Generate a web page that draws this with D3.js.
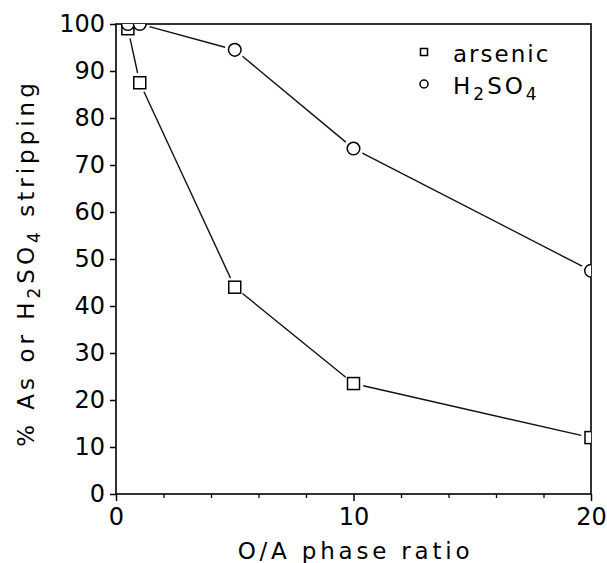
<!DOCTYPE html>
<html>
<head>
<meta charset="utf-8">
<script src="https://cdn.jsdelivr.net/npm/d3@7/dist/d3.min.js"></script>
<style>
  html, body { margin: 0; padding: 0; background: #fff; }
  svg { display: block; }
  text { font-family: "DejaVu Sans", sans-serif; fill: #000; }
</style>
</head>
<body>
<div id="chart"></div>
<script>
const phaseRatio = [0.5, 1, 5, 10, 20];
const arsenic = [99, 87.5, 44, 23.5, 12];
const h2so4 = [100, 100, 94.5, 73.5, 47.5];
const xMajorTicks = [0, 10, 20];
const xMinorTicks = [2, 4, 6, 8, 12, 14, 16, 18];
const yTicks = [0, 10, 20, 30, 40, 50, 60, 70, 80, 90, 100];

const W = 607, H = 563;
const mLeft = 116, mRight = 591, mTop = 24, mBottom = 494;

const svg = d3.select("#chart").append("svg").attr("width", W).attr("height", H);

const x = d3.scaleLinear().domain([0, 20]).range([mLeft, mRight]);
const y = d3.scaleLinear().domain([0, 100]).range([mBottom, mTop]);

svg.append("defs").append("clipPath").attr("id", "plotclip")
  .append("rect").attr("x", mLeft).attr("y", mTop).attr("width", mRight - mLeft).attr("height", mBottom - mTop);

// frame
svg.append("rect").attr("x", mLeft).attr("y", mTop).attr("width", mRight - mLeft).attr("height", mBottom - mTop)
  .attr("fill", "none").attr("stroke", "#000").attr("stroke-width", 1.6);

// y axis
const yAxis = svg.append("g").attr("transform", `translate(${mLeft},0)`)
  .call(d3.axisLeft(y).tickValues(yTicks).tickSize(6).tickPadding(5).tickFormat(d3.format("d")));
yAxis.select(".domain").remove();
yAxis.selectAll("line").attr("stroke", "#000").attr("stroke-width", 1.5);
yAxis.selectAll("text").style("font-size", "24px").attr("font-family", "DejaVu Sans");

// x axis major
const xAxis = svg.append("g").attr("transform", `translate(0,${mBottom})`)
  .call(d3.axisBottom(x).tickValues(xMajorTicks).tickSize(7).tickPadding(7).tickFormat(d3.format("d")));
xAxis.select(".domain").remove();
xAxis.selectAll("line").attr("stroke", "#000").attr("stroke-width", 1.5);
xAxis.selectAll("text").style("font-size", "24px").attr("font-family", "DejaVu Sans");

// x axis minor
const xMinor = svg.append("g").attr("transform", `translate(0,${mBottom})`)
  .call(d3.axisBottom(x).tickValues(xMinorTicks).tickSize(4).tickFormat(""));
xMinor.select(".domain").remove();
xMinor.selectAll("line").attr("stroke", "#000").attr("stroke-width", 1.3);

// titles
svg.append("text").attr("x", (mLeft + mRight) / 2 + 2).attr("y", 559)
  .attr("text-anchor", "middle").style("font-size", "23px").style("letter-spacing", "3.8px")
  .text("O/A phase ratio");

const yt = svg.append("text").attr("transform", `translate(34,${263}) rotate(-90)`)
  .attr("text-anchor", "middle").style("font-size", "23px").style("letter-spacing", "4px");
yt.append("tspan").text("% As or H");
yt.append("tspan").attr("dy", 6).style("font-size", "17px").text("2");
yt.append("tspan").attr("dy", -6).text("SO");
yt.append("tspan").attr("dy", 6).style("font-size", "17px").text("4");
yt.append("tspan").attr("dy", -6).text(" stripping");

// data
const plot = svg.append("g").attr("clip-path", "url(#plotclip)");

function drawSeries(vals, gap) {
  const pts = phaseRatio.map((p, i) => [x(p), y(vals[i])]);
  for (let i = 0; i < pts.length - 1; i++) {
    const [x1, y1] = pts[i], [x2, y2] = pts[i + 1];
    const dx = x2 - x1, dy = y2 - y1, L = Math.hypot(dx, dy);
    if (L <= 2 * gap) continue;
    const ux = dx / L, uy = dy / L;
    plot.append("line")
      .attr("x1", x1 + ux * gap).attr("y1", y1 + uy * gap)
      .attr("x2", x2 - ux * gap).attr("y2", y2 - uy * gap)
      .attr("stroke", "#111").attr("stroke-width", 1.4);
  }
  return pts;
}

const aPts = drawSeries(arsenic, 10);
const hPts = drawSeries(h2so4, 10);

plot.selectAll(".sq").data(aPts).enter().append("rect")
  .attr("x", d => d[0] - 6).attr("y", d => d[1] - 6).attr("width", 12).attr("height", 12)
  .attr("fill", "#fff").attr("stroke", "#000").attr("stroke-width", 1.5);

plot.selectAll(".ci").data(hPts).enter().append("circle")
  .attr("cx", d => d[0]).attr("cy", d => d[1]).attr("r", 6.3)
  .attr("fill", "#fff").attr("stroke", "#000").attr("stroke-width", 1.5);

// legend
const lg = svg.append("g");
lg.append("rect").attr("x", 420.5).attr("y", 48.5).attr("width", 7).attr("height", 7)
  .attr("fill", "#fff").attr("stroke", "#000").attr("stroke-width", 1.5);
lg.append("circle").attr("cx", 424).attr("cy", 84).attr("r", 4)
  .attr("fill", "#fff").attr("stroke", "#000").attr("stroke-width", 1.5);
lg.append("text").attr("x", 453).attr("y", 62).style("font-size", "23px").style("letter-spacing", "2px").text("arsenic");
const lt = lg.append("text").attr("x", 453).attr("y", 94).style("font-size", "23px").style("letter-spacing", "3px");
lt.append("tspan").text("H");
lt.append("tspan").attr("dy", 6).style("font-size", "17px").text("2");
lt.append("tspan").attr("dy", -6).text("SO");
lt.append("tspan").attr("dy", 6).style("font-size", "17px").text("4");
</script>
</body>
</html>
